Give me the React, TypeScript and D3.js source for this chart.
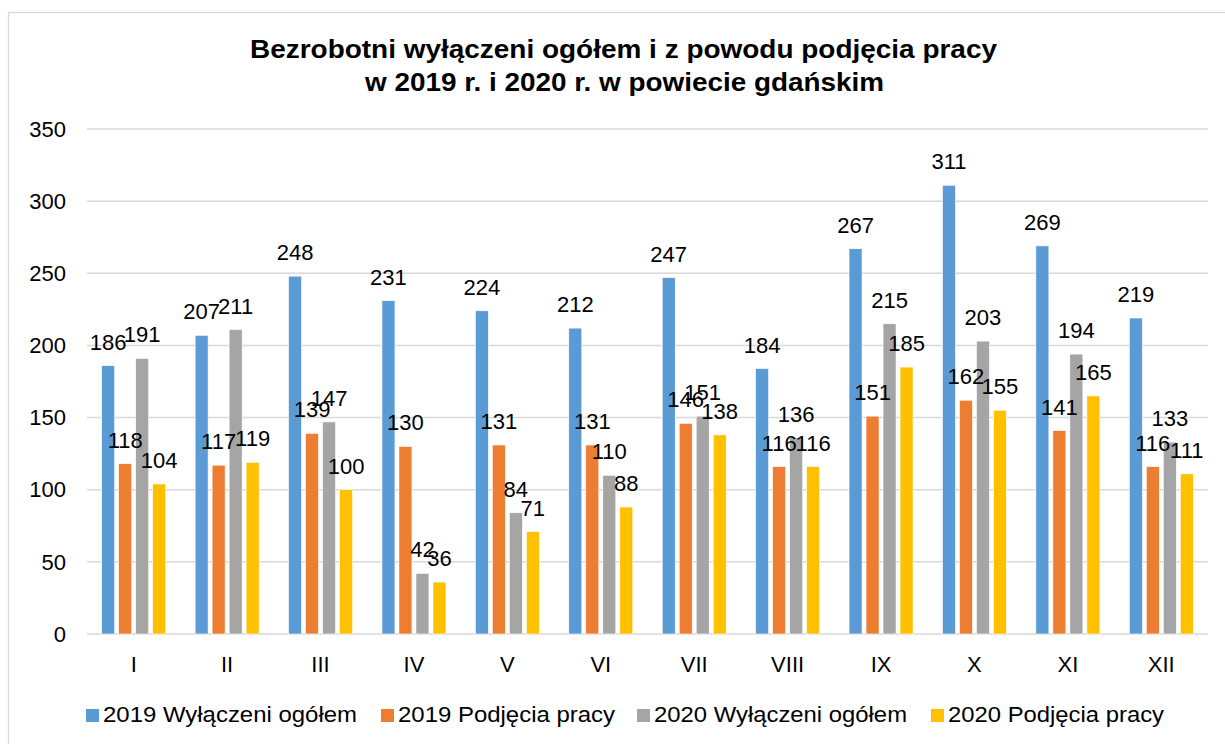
import React from "react";
import * as d3 from "d3";

// Bezrobotni wyłączeni - grouped bar chart

const months = ["I", "II", "III", "IV", "V", "VI", "VII", "VIII", "IX", "X", "XI", "XII"];
const seriesNames = ["2019 Wyłączeni ogółem", "2019 Podjęcia pracy", "2020 Wyłączeni ogółem", "2020 Podjęcia pracy"];
const colors = ["#5b9bd5", "#ed7d31", "#a5a5a5", "#ffc000"];
const w2019 = [186, 207, 248, 231, 224, 212, 247, 184, 267, 311, 269, 219];
const p2019 = [118, 117, 139, 130, 131, 131, 146, 116, 151, 162, 141, 116];
const w2020 = [191, 211, 147, 42, 84, 110, 151, 136, 215, 203, 194, 133];
const p2020 = [104, 119, 100, 36, 71, 88, 138, 116, 185, 155, 165, 111];
const yTicks = [0, 50, 100, 150, 200, 250, 300, 350];
const legendX = [86, 381, 637, 931];
const legendW = [254, 217, 253, 216];

const values = [w2019, p2019, w2020, p2020];
const font = "'Liberation Sans', Arial, sans-serif";

export default function App() {
  const W = 1225, H = 744;
  const left = 87, right = 1208, top = 129, bottom = 634;

  const y = d3.scaleLinear().domain([0, 350]).range([bottom, top]);
  const x0 = d3.scaleBand<string>().domain(months).range([left, right]);
  const gpad = (x0.bandwidth() - 64) / 2;
  const x1 = d3.scaleBand<number>().domain([0, 1, 2, 3])
    .range([gpad, gpad + 64]).paddingInner(4 / 17);

  return (
    <svg width={W} height={H} style={{ position: "absolute", left: 0, top: 0 }} fontFamily={font}>
      <rect x={8.5} y={12.5} width={W} height={H} fill="#fff" stroke="#d9d9d9" strokeWidth={1.3} />
      <text x={623.5} y={58} textAnchor="middle" fontSize={26} fontWeight="bold"
        textLength={747} lengthAdjust="spacingAndGlyphs">
        Bezrobotni wyłączeni ogółem i z powodu podjęcia pracy
      </text>
      <text x={624.5} y={91} textAnchor="middle" fontSize={26} fontWeight="bold"
        textLength={519} lengthAdjust="spacingAndGlyphs">
        w 2019 r. i 2020 r. w powiecie gdańskim
      </text>

      {yTicks.map(t => (
        <g key={t}>
          <line x1={left} x2={right} y1={y(t)} y2={y(t)} stroke="#d9d9d9" strokeWidth={1.5} />
          <text x={66} y={y(t)} dy="0.35em" textAnchor="end" fontSize={22} fill="#000">{t}</text>
        </g>
      ))}

      {months.map((m, i) => (
        <g key={m} transform={`translate(${x0(m)},0)`}>
          {values.map((vals, s) => (
            <rect key={s} x={x1(s)} y={y(vals[i])} width={x1.bandwidth()}
              height={bottom - y(vals[i])} fill={colors[s]} stroke="#fff" strokeWidth={0.6} />
          ))}
          {values.map((vals, s) => (
            <text key={"l" + s} x={(x1(s) as number) + x1.bandwidth() / 2} y={y(vals[i]) - 16}
              textAnchor="middle" fontSize={22} fill="#000">{vals[i]}</text>
          ))}
          <text x={x0.bandwidth() / 2} y={672} textAnchor="middle" fontSize={22}>{m}</text>
        </g>
      ))}

      {seriesNames.map((n, s) => (
        <g key={n}>
          <rect x={legendX[s]} y={709} width={13} height={13} fill={colors[s]} />
          <text x={legendX[s] + 17} y={722} fontSize={22}
            textLength={legendW[s]} lengthAdjust="spacingAndGlyphs">{n}</text>
        </g>
      ))}
    </svg>
  );
}
